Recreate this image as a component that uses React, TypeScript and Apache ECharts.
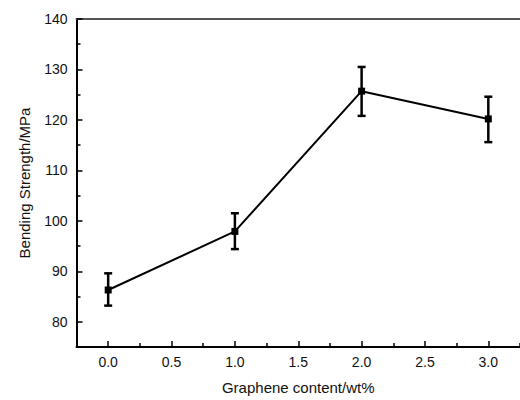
import React, { useEffect, useRef } from "react";
import * as echarts from "echarts";

const xValues = [0, 1, 2, 3];
const strength = [86.3, 97.9, 125.7, 120.2];
const errorLow = [83.2, 94.4, 120.8, 115.6];
const errorHigh = [89.6, 101.5, 130.5, 124.6];
const xMajorTicks = [0, 0.5, 1, 1.5, 2, 2.5, 3];
const xMinorTicks = [0.25, 0.75, 1.25, 1.75, 2.25, 2.75, 3.25];
const yMajorTicks = [80, 90, 100, 110, 120, 130, 140];
const yMinorTicks = [85, 95, 105, 115, 125, 135];

const FONT = "Liberation Sans, Arial, sans-serif";

export default function App() {
  const ref = useRef<HTMLDivElement>(null);
  useEffect(() => {
    if (!ref.current) return;
    const chart = echarts.init(ref.current, undefined, { renderer: "svg" });
    const lineData = xValues.map((x, i) => [x, strength[i]]);
    const errData = xValues.map((x, i) => [x, errorLow[i], errorHigh[i]]);
    const baseX = { type: "value", min: -0.25, max: 3.25, gridIndex: 0 };
    const baseY = { type: "value", min: 75, max: 140, gridIndex: 0 };
    chart.setOption({
      animation: false,
      backgroundColor: "#ffffff",
      grid: { left: 76.5, top: 19, width: 455, height: 331.5, containLabel: false },
      xAxis: [
        {
          ...baseX,
          position: "bottom",
          name: "Graphene content/wt%",
          nameLocation: "middle",
          nameGap: 33,
          nameTextStyle: { fontFamily: FONT, fontSize: 15, color: "#111" },
          axisLine: { show: true, onZero: false, lineStyle: { color: "#000", width: 2 } },
          axisTick: { show: true, inside: true, length: 6, customValues: xMajorTicks, lineStyle: { color: "#000", width: 1.5 } },
          axisLabel: {
            show: true,
            customValues: xMajorTicks,
            margin: 8,
            fontFamily: FONT,
            fontSize: 14,
            color: "#111",
            formatter: (v: number) => v.toFixed(1),
          },
          splitLine: { show: false },
        },
        {
          ...baseX,
          position: "bottom",
          axisLine: { show: false, onZero: false },
          axisTick: { show: true, inside: true, length: 4, customValues: xMinorTicks, lineStyle: { color: "#000", width: 1.5 } },
          axisLabel: { show: false },
          splitLine: { show: false },
        },
        {
          ...baseX,
          position: "top",
          axisLine: { show: true, onZero: false, lineStyle: { color: "#555", width: 2 } },
          axisTick: { show: false },
          axisLabel: { show: false },
          splitLine: { show: false },
        },
      ],
      yAxis: [
        {
          ...baseY,
          position: "left",
          name: "Bending Strength/MPa",
          nameLocation: "middle",
          nameGap: 45,
          nameTextStyle: { fontFamily: FONT, fontSize: 15, color: "#111" },
          axisLine: { show: true, onZero: false, lineStyle: { color: "#000", width: 2 } },
          axisTick: { show: true, inside: true, length: 6, customValues: yMajorTicks, lineStyle: { color: "#000", width: 1.5 } },
          axisLabel: { show: true, customValues: yMajorTicks, margin: 9, fontFamily: FONT, fontSize: 14, color: "#111" },
          splitLine: { show: false },
        },
        {
          ...baseY,
          position: "left",
          axisLine: { show: false, onZero: false },
          axisTick: { show: true, inside: true, length: 4, customValues: yMinorTicks, lineStyle: { color: "#000", width: 1.5 } },
          axisLabel: { show: false },
          splitLine: { show: false },
        },
      ],
      series: [
        {
          type: "custom",
          xAxisIndex: 0,
          yAxisIndex: 0,
          data: errData,
          z: 3,
          renderItem: (params: any, api: any) => {
            const x = api.value(0);
            const lo = api.coord([x, api.value(1)]);
            const hi = api.coord([x, api.value(2)]);
            const cap = 4;
            const style = { stroke: "#000", lineWidth: 2.5 };
            return {
              type: "group",
              children: [
                { type: "line", shape: { x1: lo[0], y1: lo[1], x2: hi[0], y2: hi[1] }, style },
                { type: "line", shape: { x1: lo[0] - cap, y1: lo[1], x2: lo[0] + cap, y2: lo[1] }, style },
                { type: "line", shape: { x1: hi[0] - cap, y1: hi[1], x2: hi[0] + cap, y2: hi[1] }, style },
              ],
            };
          },
        },
        {
          type: "line",
          xAxisIndex: 0,
          yAxisIndex: 0,
          data: lineData,
          z: 4,
          symbol: "rect",
          symbolSize: 7,
          lineStyle: { color: "#000", width: 2 },
          itemStyle: { color: "#000" },
        },
      ],
    });
    return () => chart.dispose();
  }, []);
  return <div ref={ref} style={{ width: 520, height: 400, position: "absolute", left: 0, top: 0 }} />;
}
